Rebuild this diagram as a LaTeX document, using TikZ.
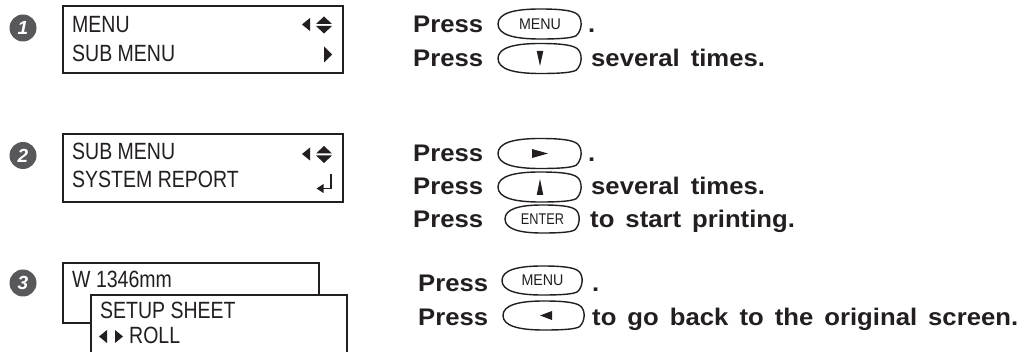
\documentclass[tikz,border=0pt]{standalone}
\usepackage{fontspec}
\setmainfont{Liberation Sans}
\newfontfamily\pressfont{Liberation Sans}[FakeStretch=1.07, WordSpace=1.55]
\newfontfamily\dispfont{Liberation Sans}[FakeStretch=0.83]
\newfontfamily\keyfont{Liberation Sans}[FakeStretch=0.92]
\newfontfamily\enterfont{Liberation Sans}[FakeStretch=0.82]
\definecolor{ink}{RGB}{35,31,32}
\definecolor{stepgray}{RGB}{88,88,90}
\newcommand\keyoutline[3]{%
  \begin{scope}[shift={(#1.center)},x=#2pt,y=#3pt]
    \draw[keyline] (-1,0) .. controls (-1,0.72) and (-0.62,1) .. (0,1)
      .. controls (0.5,1) and (0.8,0.9) .. (0.9,0.62)
      .. controls (1.02,0.3) and (1.0,-0.45) .. (0.86,-0.78)
      .. controls (0.75,-0.95) and (0.45,-1) .. (0,-1)
      .. controls (-0.62,-1) and (-1,-0.72) .. (-1,0) -- cycle;
  \end{scope}}
\tikzset{
  txt/.style={anchor=base west, inner sep=0pt, text=ink},
  press/.style={txt, font=\pressfont\bfseries\fontsize{24}{28}\selectfont},
  disp/.style={txt, font=\dispfont\fontsize{23.5}{28}\selectfont},
  keynode/.style={inner sep=0pt, text=ink, font=\keyfont\fontsize{15.5}{16}\selectfont},
  keyline/.style={draw=ink, line width=1.4pt},
  dispbox/.style={draw=ink, line width=2.6pt, inner sep=0pt, fill=white},
  stepcirc/.style={circle, fill=stepgray, minimum size=27pt, inner sep=0pt, text=white,
    font=\bfseries\itshape\fontsize{19}{19}\selectfont},
}
\begin{document}
\begin{tikzpicture}[x=1pt,y=-1pt]
\useasboundingbox (0,0) rectangle (1027,352);
\clip (0,0) rectangle (1027,352);
\fill[white] (0,0) rectangle (1027,352);

% step markers
\node[stepcirc] (s1) at (23,28) {1};
\node[stepcirc] (s2) at (23,155.5) {2};
\node[stepcirc] (s3) at (23,283) {3};

% display 1
\node[dispbox, minimum width=280pt, minimum height=67pt] (d1) at (203,39.5) {};
\node[disp] (d1a) at (72,33) {MENU};
\node[disp] (d1b) at (72,62) {SUB MENU};
\fill[ink] (302,24.5) -- (310,18) -- (310,31) -- cycle;
\fill[ink] (316,24) -- (332,24) -- (324,16.5) -- cycle;
\fill[ink] (316,26) -- (332,26) -- (324,33.5) -- cycle;
\fill[ink] (324,46.5) -- (332,54.5) -- (324,62.5) -- cycle;

% display 2
\node[dispbox, minimum width=280pt, minimum height=68pt] (d2) at (203,168) {};
\node[disp] (d2a) at (72,160) {SUB MENU};
\node[disp] (d2b) at (72,188) {SYSTEM REPORT};
\fill[ink] (302,154) -- (310,147.5) -- (310,160.5) -- cycle;
\fill[ink] (316,153.5) -- (332,153.5) -- (324,146) -- cycle;
\fill[ink] (316,155.5) -- (332,155.5) -- (324,163) -- cycle;
\draw[ink, line width=1.6pt] (331,174) -- (331,188.5) -- (322,188.5);
\fill[ink] (316.5,188.5) -- (323.5,184) -- (323.5,193) -- cycle;

% display 3
\node[dispbox, minimum width=256pt, minimum height=60pt] (d3) at (191,293) {};
\node[disp] (d3a) at (72,288) {W 1346mm};
\node[dispbox, minimum width=256pt, minimum height=75pt] (d4) at (219,332.5) {};
\node[disp] (d4a) at (100,318) {SETUP SHEET};
\fill[ink] (99,336.5) -- (107,330) -- (107,343) -- cycle;
\fill[ink] (115,330) -- (123,336.5) -- (115,343) -- cycle;
\node[disp] (d4b) at (129,343) {ROLL};

% instructions, step 1
\node[press] (p11) at (413,33) {Press};
\node[keynode, minimum width=84pt, minimum height=30pt] (k11) at (540,24) {MENU};
\keyoutline{k11}{42}{15}
\node[press] (t11) at (588,33) {.};
\node[press] (p12) at (413,67) {Press};
\node[keynode, minimum width=84pt, minimum height=30pt] (k12) at (540,58.5) {};
\keyoutline{k12}{42}{15}
\fill[ink] (k12.center) ++(-3.3pt,7.5pt) -- ++(6.6pt,0pt) -- ++(-3.3pt,-15pt) -- cycle;
\node[press] (t12) at (591,67) {several times.};

% step 2
\node[press] (p21) at (413,162) {Press};
\node[keynode, minimum width=84pt, minimum height=30pt] (k21) at (540,153.5) {};
\keyoutline{k21}{42}{15}
\fill[ink] (k21.center) ++(-8pt,4.5pt) -- ++(0pt,-9pt) -- ++(16pt,4.5pt) -- cycle;
\node[press] (t21) at (588,162) {.};
\node[press] (p22) at (413,195) {Press};
\node[keynode, minimum width=84pt, minimum height=30pt] (k22) at (540,187) {};
\keyoutline{k22}{42}{15}
\fill[ink] (k22.center) ++(-3.3pt,-8pt) -- ++(6.6pt,0pt) -- ++(-3.3pt,16pt) -- cycle;
\node[press] (t22) at (591,195) {several times.};
\node[press] (p23) at (413,228) {Press};
\node[keynode, font=\enterfont\fontsize{15.5}{16}\selectfont, minimum width=75pt, minimum height=28pt] (k23) at (542.5,219) {ENTER};
\keyoutline{k23}{37.5}{14}
\node[press] (t23) at (590,228) {to start printing.};

% step 3
\node[press] (p31) at (418,291) {Press};
\node[keynode, minimum width=81pt, minimum height=29pt] (k31) at (542.5,280.5) {MENU};
\keyoutline{k31}{40.5}{14.5}
\node[press] (t31) at (592,291) {.};
\node[press] (p32) at (418,325) {Press};
\node[keynode, minimum width=82pt, minimum height=29pt] (k32) at (544,315.5) {};
\keyoutline{k32}{41}{14.5}
\fill[ink] (k32.center) ++(8pt,4.5pt) -- ++(0pt,-9pt) -- ++(-12pt,4.5pt) -- cycle;
\node[press] (t32) at (592,325) {to go back to the original screen.};
\end{tikzpicture}
\end{document}
